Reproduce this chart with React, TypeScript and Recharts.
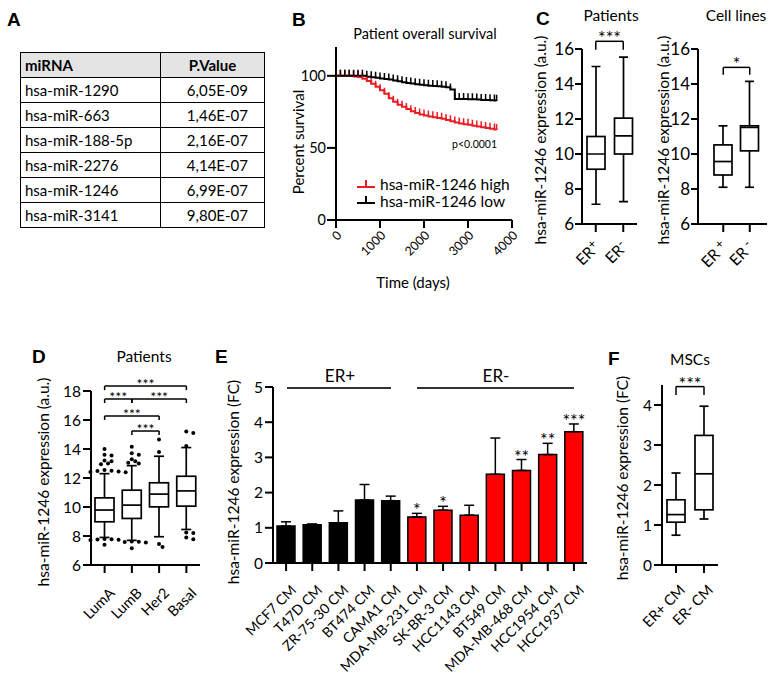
import React from "react";
import {
  Bar,
  BarChart,
  Cell,
  ErrorBar,
  Line,
  LineChart,
  ReferenceDot,
  ReferenceLine,
  XAxis,
  YAxis,
} from "recharts";

const FONT = "Lato, 'Open Sans', sans-serif";
const BAR_RED = "#ff0000";
const CURVE_RED = "#ec1c24";

// ---- A: top miRNAs
const tableMirnas = ["hsa-miR-1290", "hsa-miR-663", "hsa-miR-188-5p", "hsa-miR-2276", "hsa-miR-1246", "hsa-miR-3141"];
const tablePValues = ["6,05E-09", "1,46E-07", "2,16E-07", "4,14E-07", "6,99E-07", "9,80E-07"];

// ---- B: overall survival (percent)
const survTimes = [
  0, 100, 200, 300, 400, 500, 600, 700, 800, 900, 1000, 1100, 1200, 1300, 1400, 1500, 1600, 1700, 1800,
  1900, 2000, 2100, 2200, 2300, 2400, 2500, 2600, 2700, 2800, 2900, 3000, 3100, 3200, 3300, 3400, 3500,
  3600, 3650,
];
const survHigh = [
  100, 100, 100, 100, 99.6, 99.2, 98, 96.5, 94.5, 92.5, 90, 87.5, 84.5, 82, 80, 78.5, 77, 75.5, 74.2, 73.2,
  72.4, 71.8, 71.2, 70.8, 70.2, 69.4, 68.5, 67.6, 67, 66.5, 66, 65.4, 64.8, 64.3, 63.8, 63.3, 62.8, 62.5,
];
const survLow = [
  100, 100, 100, 100, 100, 100, 100, 99.3, 99, 98.6, 98.2, 97.8, 97.4, 96.8, 96.2, 95.6, 95, 94.6, 94.2,
  93.8, 93.5, 93.2, 93, 92.8, 92.4, 92, 90.6, 84, 84, 84, 83.8, 83.8, 83.5, 83.3, 83.2, 83, 82.9, 82.8,
];
const survTicks = [0, 1000, 2000, 3000, 4000];

// ---- C: ER status boxes  [min, q1, median, q3, max]
const cPatientGroups = ["ER+", "ER-"];
const cPatientStats = [
  [7.13, 9.13, 10.0, 11.0, 15.0],
  [7.28, 10.0, 11.04, 12.05, 15.54],
];
const cCellGroups = ["ER +", "ER -"];
const cCellStats = [
  [8.1, 8.8, 9.57, 10.52, 11.61],
  [8.1, 10.18, 11.52, 11.61, 14.15],
];
const cTicks = [6, 8, 10, 12, 14, 16];

// ---- D: PAM50 subtypes
const dSubtypes = ["LumA", "LumB", "Her2", "Basal"];
const dStats = [
  [7.9, 8.98, 9.79, 10.63, 12.3],
  [7.7, 9.21, 10.13, 11.16, 12.85],
  [7.95, 10.01, 10.89, 11.67, 13.5],
  [8.45, 10.06, 11.11, 12.12, 14.1],
];
const dOutliers = [
  [14.0, 13.6, 13.55, 13.2, 13.15, 13.0, 12.95, 12.55, 12.5, 12.48, 12.45, 12.42, 12.4, 7.8, 7.78, 7.76, 7.74, 7.72, 7.4],
  [14.15, 13.7, 13.6, 13.3, 13.15, 13.05, 13.0, 7.62, 7.6, 7.58, 7.56, 7.15],
  [14.65, 13.8, 7.45, 7.25],
  [15.2, 15.1, 14.2, 8.25, 8.2, 7.9, 7.78],
];
const dTicks = [6, 8, 10, 12, 14, 16, 18];

// ---- E: conditioned media, fold change (mean and top of error bar)
const eLines = [
  "MCF7 CM", "T47D CM", "ZR-75-30 CM", "BT474 CM", "CAMA1 CM", "MDA-MB-231 CM",
  "SK-BR-3 CM", "HCC1143 CM", "BT549 CM", "MDA-MB-468 CM", "HCC1954 CM", "HCC1937 CM",
];
const eGroup = ["ER+", "ER+", "ER+", "ER+", "ER+", "ER-", "ER-", "ER-", "ER-", "ER-", "ER-", "ER-"];
const eMeans = [1.05, 1.09, 1.14, 1.79, 1.77, 1.31, 1.5, 1.36, 2.52, 2.63, 3.08, 3.73];
const eErrTop = [1.17, 1.11, 1.48, 2.23, 1.9, 1.41, 1.61, 1.64, 3.55, 2.94, 3.4, 3.95];
const eSig = ["", "", "", "", "", "*", "*", "", "", "**", "**", "***"];
const eTicks = [0, 1, 2, 3, 4, 5];

// ---- F: MSCs
const fGroups = ["ER+ CM", "ER- CM"];
const fStats = [
  [0.745, 1.07, 1.26, 1.63, 2.3],
  [1.15, 1.38, 2.28, 3.24, 3.97],
];
const fTicks = [0, 1, 2, 3, 4];

type BoxRow = { name: string; stats: number[]; outliers: number[] };

const boxRows = (names: string[], stats: number[][], outliers?: number[][]): BoxRow[] =>
  names.map((name, i) => ({ name, stats: stats[i], outliers: outliers ? outliers[i] : [] }));

const axisLine = { stroke: "#000", strokeWidth: 2 };
const STAR_SIZE = 18;

// spread overlapping outlier dots sideways
function swarm(ys: number[], r: number) {
  const placed: { dx: number; y: number }[] = [];
  const step = 2 * r + 0.4;
  ys.forEach((y) => {
    for (let n = 0; n < 30; n++) {
      const dx = n === 0 ? 0 : (n % 2 ? 1 : -1) * Math.ceil(n / 2) * step * 0.8;
      if (placed.every((p) => Math.hypot(p.dx - dx, p.y - y) >= step * 0.9)) {
        placed.push({ dx, y });
        break;
      }
    }
  });
  return placed;
}

function makeBoxShape(capHalf: number) {
  return function BoxShape(props: any) {
    const { x, y, width, height, payload } = props;
    const [lo, q1, med, q3, hi] = payload.stats as number[];
    const k = height / (hi - lo);
    const py = (v: number) => y + (hi - v) * k;
    const cx = x + width / 2;
    const dots = swarm(payload.outliers.map(py), 2);
    return (
      <g stroke="#000" strokeWidth={1.7} fill="none">
        <line x1={cx} x2={cx} y1={py(hi)} y2={py(q3)} />
        <line x1={cx} x2={cx} y1={py(q1)} y2={py(lo)} />
        <line x1={cx - capHalf} x2={cx + capHalf} y1={py(hi)} y2={py(hi)} />
        <line x1={cx - capHalf} x2={cx + capHalf} y1={py(lo)} y2={py(lo)} />
        <rect x={x} y={py(q3)} width={width} height={py(q1) - py(q3)} fill="#fff" />
        <line x1={x} x2={x + width} y1={py(med)} y2={py(med)} />
        {dots.map((d, i) => (
          <circle key={i} cx={cx + d.dx} cy={d.y} r={2} fill="#000" stroke="none" />
        ))}
      </g>
    );
  };
}

function RotatedTick(props: any) {
  const { x, y, payload, dx, dy, fontSize } = props;
  const ax = x + dx;
  const ay = y + dy;
  return (
    <text x={ax} y={ay} transform={`rotate(-45 ${ax} ${ay})`} textAnchor="end" fontSize={fontSize} fill="#000">
      {payload.value}
    </text>
  );
}

// "ER+" drawn with the sign raised, as in the figure
function SupTick(props: any) {
  const { x, y, payload, dx, dy, fontSize } = props;
  const s = String(payload.value);
  const main = s.slice(0, 2);
  const sup = s.slice(2);
  const ax = x + dx;
  const ay = y + dy;
  return (
    <text x={ax} y={ay} transform={`rotate(-45 ${ax} ${ay})`} textAnchor="end" fontSize={fontSize} fill="#000">
      {main}
      <tspan dy={-5} fontSize={fontSize * 0.8}>{sup}</tspan>
    </text>
  );
}

function bracket(a: string, b: string, y: number, drop: number, text: string, key: string, size = STAR_SIZE) {
  const common = { stroke: "#000", strokeWidth: 1.5, ifOverflow: "visible" as const };
  return [
    <ReferenceLine
      key={key + "h"}
      segment={[{ x: a, y }, { x: b, y }]}
      {...common}
      label={{ value: text, position: "top", offset: -3, fill: "#000", fontSize: size }}
    />,
    <ReferenceLine key={key + "l"} segment={[{ x: a, y }, { x: a, y: y - drop }]} {...common} />,
    <ReferenceLine key={key + "r"} segment={[{ x: b, y }, { x: b, y: y - drop }]} {...common} />,
  ];
}

function BoxPanel(props: {
  left: number; top: number; width: number; height: number;
  margin: { top: number; right: number; bottom: number; left: number };
  yWidth: number; xHeight: number; rows: BoxRow[]; domain: [number, number]; ticks: number[];
  barSize: number; capHalf: number; tick: (p: any) => any; xPadding?: { left: number; right: number };
  yFont?: number; yTickSize?: number; yTickMargin?: number; children?: any;
}) {
  const shape = makeBoxShape(props.capHalf);
  return (
    <div style={{ position: "absolute", left: props.left, top: props.top }}>
      <BarChart width={props.width} height={props.height} data={props.rows} margin={props.margin} barSize={props.barSize}>
        <XAxis
          dataKey="name"
          type="category"
          interval={0}
          height={props.xHeight}
          tickSize={8}
          tickMargin={0}
          axisLine={axisLine}
          tickLine={axisLine}
          tick={props.tick}
          padding={props.xPadding}
        />
        <YAxis
          type="number"
          domain={props.domain}
          ticks={props.ticks}
          interval={0}
          width={props.yWidth}
          tickSize={props.yTickSize ?? 8}
          tickMargin={props.yTickMargin ?? 2}
          axisLine={axisLine}
          tickLine={axisLine}
          tick={{ fill: "#000", fontSize: props.yFont ?? 15 }}
          allowDataOverflow
        />
        <Bar dataKey={(d: BoxRow) => [d.stats[0], d.stats[4]]} shape={shape} isAnimationActive={false} />
        {props.children}
      </BarChart>
    </div>
  );
}

function censorTick(color: string) {
  return (p: any) => (
    <line key={`c${p.index}`} x1={p.cx} x2={p.cx} y1={p.cy - 6} y2={p.cy} stroke={color} strokeWidth={1.5} />
  );
}

function SurvivalPanel() {
  const highRows = survTimes.map((t, i) => ({ t, s: survHigh[i] }));
  const lowRows = survTimes.map((t, i) => ({ t, s: survLow[i] }));
  return (
    <div style={{ position: "absolute", left: 250, top: 40 }}>
      <LineChart width={285} height={260} margin={{ top: 7, right: 23, bottom: 0, left: 0 }}>
        <XAxis
          type="number"
          dataKey="t"
          domain={[0, 4000]}
          ticks={survTicks}
          interval={0}
          height={80}
          tickSize={8}
          tickMargin={0}
          axisLine={axisLine}
          tickLine={axisLine}
          tick={(p: any) => <RotatedTick {...p} dx={6.5} dy={8} fontSize={12.5} />}
          allowDataOverflow
        />
        <YAxis
          type="number"
          domain={[0, 120]}
          ticks={[0, 50, 100]}
          interval={0}
          width={86}
          tickSize={9}
          tickMargin={1}
          axisLine={axisLine}
          tickLine={axisLine}
          tick={{ fill: "#000", fontSize: 14.5 }}
        />
        <Line data={highRows} dataKey="s" type="stepAfter" stroke={CURVE_RED} strokeWidth={2}
          dot={censorTick(CURVE_RED)} activeDot={false} isAnimationActive={false} />
        <Line data={lowRows} dataKey="s" type="stepAfter" stroke="#000" strokeWidth={2}
          dot={censorTick("#000")} activeDot={false} isAnimationActive={false} />
      </LineChart>
    </div>
  );
}

function CellLinePanel() {
  const rows = eLines.map((name, i) => ({
    name,
    group: eGroup[i],
    mean: eMeans[i],
    err: [0, +(eErrTop[i] - eMeans[i]).toFixed(3)],
  }));
  return (
    <div style={{ position: "absolute", left: 240, top: 365 }}>
      <BarChart width={355} height={318} data={rows} margin={{ top: 22, right: 8, bottom: 0, left: 0 }} barSize={18}>
        <XAxis
          dataKey="name"
          interval={0}
          height={120}
          tickSize={8}
          tickMargin={0}
          axisLine={axisLine}
          tickLine={axisLine}
          tick={(p: any) => <RotatedTick {...p} dx={11} dy={20} fontSize={14} />}
        />
        <YAxis
          type="number"
          domain={[0, 5]}
          ticks={eTicks}
          interval={0}
          width={33}
          tickSize={8}
          tickMargin={2}
          axisLine={axisLine}
          tickLine={axisLine}
          tick={{ fill: "#000", fontSize: 15.5 }}
        />
        <Bar dataKey="mean" stroke="#000" strokeWidth={1.5} isAnimationActive={false}>
          {rows.map((r, i) => (
            <Cell key={i} fill={r.group === "ER+" ? "#000" : BAR_RED} />
          ))}
          <ErrorBar dataKey="err" width={5} stroke="#000" strokeWidth={1.5} direction="y" />
        </Bar>
        {eLines.map((name, i) =>
          eSig[i] ? (
            <ReferenceDot
              key={name}
              x={name}
              y={eErrTop[i]}
              r={0}
              fill="none"
              stroke="none"
              ifOverflow="visible"
              label={{ value: eSig[i], position: "top", offset: -3, fill: "#000", fontSize: STAR_SIZE }}
            />
          ) : null,
        )}
      </BarChart>
    </div>
  );
}

function MirnaTable() {
  const cell = {
    border: "1.5px solid #000",
    padding: "0 4px",
    height: 24,
    lineHeight: "20px",
  };
  return (
    <table
      style={{
        position: "absolute",
        left: 20,
        top: 52,
        width: 245,
        borderCollapse: "collapse",
        fontFamily: FONT,
        fontSize: 15,
      }}
    >
      <thead>
        <tr style={{ background: "#e4e4e4" }}>
          <th style={{ ...cell, width: 131, textAlign: "left" }}>miRNA</th>
          <th style={{ ...cell, textAlign: "center" }}>P.Value</th>
        </tr>
      </thead>
      <tbody>
        {tableMirnas.map((m, i) => (
          <tr key={m}>
            <td style={{ ...cell, textAlign: "left" }}>{m}</td>
            <td style={{ ...cell, textAlign: "right", paddingRight: 16 }}>{tablePValues[i]}</td>
          </tr>
        ))}
      </tbody>
    </table>
  );
}

function VText({ x, y, children, size = 15.5 }: { x: number; y: number; children: any; size?: number }) {
  return (
    <text x={x} y={y} transform={`rotate(-90 ${x} ${y})`} textAnchor="middle" fontSize={size} fill="#000">
      {children}
    </text>
  );
}

function Overlay() {
  const letter = { fontFamily: "'Liberation Sans', Arial, sans-serif", fontWeight: 700, fontSize: 19, fill: "#000" };
  return (
    <svg width={778} height={683} style={{ position: "absolute", left: 0, top: 0, pointerEvents: "none", fontFamily: FONT }}>
      <text x={7} y={26} {...letter}>A</text>
      <text x={292} y={26} {...letter}>B</text>
      <text x={536} y={25} {...letter}>C</text>
      <text x={32} y={363} {...letter}>D</text>
      <text x={215} y={363} {...letter}>E</text>
      <text x={608} y={365} {...letter}>F</text>

      <text x={425} y={39} textAnchor="middle" fontSize={14.5}>Patient overall survival</text>
      <VText x={304} y={142} size={15}>Percent survival</VText>
      <text x={413} y={288} textAnchor="middle" fontSize={15}>Time (days)</text>
      <text x={497} y={148} textAnchor="end" fontSize={10.5}>p&lt;0.0001</text>
      <line x1={357} x2={375} y1={187} y2={187} stroke={CURVE_RED} strokeWidth={2} />
      <line x1={366} x2={366} y1={180} y2={187} stroke={CURVE_RED} strokeWidth={2} />
      <text x={380} y={190} fontSize={15.5}>hsa-miR-1246 high</text>
      <line x1={357} x2={375} y1={203} y2={203} stroke="#000" strokeWidth={2} />
      <line x1={366} x2={366} y1={196} y2={203} stroke="#000" strokeWidth={2} />
      <text x={380} y={207} fontSize={15.5}>hsa-miR-1246 low</text>

      <text x={611} y={21} textAnchor="middle" fontSize={15.5}>Patients</text>
      <text x={736} y={21} textAnchor="middle" fontSize={15.5}>Cell lines</text>
      <VText x={546} y={140}>hsa-miR-1246 expression (a.u.)</VText>
      <VText x={669} y={140}>hsa-miR-1246 expression (a.u.)</VText>

      <text x={144} y={362} textAnchor="middle" fontSize={15.5}>Patients</text>
      <VText x={49} y={482}>hsa-miR-1246 expression (a.u.)</VText>

      <VText x={239} y={482}>hsa-miR-1246 expression (FC)</VText>
      <text x={340} y={382} textAnchor="middle" fontSize={17}>ER+</text>
      <line x1={287} x2={391} y1={388} y2={388} stroke="#333" strokeWidth={2} />
      <text x={496} y={382} textAnchor="middle" fontSize={17}>ER-</text>
      <line x1={417} x2={574} y1={388} y2={388} stroke="#333" strokeWidth={2} />

      <text x={690} y={365} textAnchor="middle" fontSize={15.5}>MSCs</text>
      <VText x={628} y={478}>hsa-miR-1246 expression (FC)</VText>
    </svg>
  );
}

export default function App() {
  const supTick = (p: any) => <SupTick {...p} dx={5} dy={16} fontSize={15.5} />;
  return (
    <div
      style={{
        position: "absolute",
        left: 0,
        top: 0,
        width: 778,
        height: 683,
        background: "#fff",
        fontFamily: FONT,
        overflow: "hidden",
      }}
    >
      <MirnaTable />
      <SurvivalPanel />

      <BoxPanel
        left={550} top={15} width={95} height={275}
        margin={{ top: 34, right: 8, bottom: 0, left: 0 }}
        yWidth={32} xHeight={66}
        rows={boxRows(cPatientGroups, cPatientStats)}
        domain={[6, 16]} ticks={cTicks} barSize={18} capHalf={4.5} tick={supTick}
        yFont={17} yTickSize={7} yTickMargin={1}
      >
        {bracket("ER+", "ER-", 16.44, 0.48, "***", "cp")}
      </BoxPanel>

      <BoxPanel
        left={668} top={15} width={110} height={275}
        margin={{ top: 34, right: 11, bottom: 0, left: 0 }}
        yWidth={30} xHeight={66}
        rows={boxRows(cCellGroups, cCellStats)}
        domain={[6, 16]} ticks={cTicks} barSize={18} capHalf={4.5} tick={supTick}
        xPadding={{ left: 12, right: 4 }}
        yFont={17} yTickSize={7} yTickMargin={1}
      >
        {bracket("ER +", "ER -", 14.95, 0.42, "*", "cc")}
      </BoxPanel>

      <BoxPanel
        left={50} top={355} width={155} height={270}
        margin={{ top: 36, right: 5, bottom: 0, left: 0 }}
        yWidth={41} xHeight={60}
        rows={boxRows(dSubtypes, dStats, dOutliers)}
        domain={[6, 18]} ticks={dTicks} barSize={19} capHalf={5}
        tick={(p: any) => <RotatedTick {...p} dx={11} dy={21} fontSize={14.5} />}
        yFont={15.5}
      >
        {bracket("LumA", "Basal", 18.34, 0.28, "***", "d1", 14)}
        {bracket("LumA", "LumB", 17.45, 0.28, "***", "d2", 14)}
        {bracket("LumB", "Basal", 17.45, 0.28, "***", "d3", 14)}
        {bracket("LumA", "Her2", 16.28, 0.28, "***", "d4", 14)}
        {bracket("LumB", "Her2", 15.24, 0.28, "***", "d5", 14)}
      </BoxPanel>

      <CellLinePanel />

      <BoxPanel
        left={632} top={350} width={146} height={285}
        margin={{ top: 35, right: 60, bottom: 0, left: 0 }}
        yWidth={30} xHeight={70}
        rows={boxRows(fGroups, fStats)}
        domain={[0, 4.5]} ticks={fTicks} barSize={18} capHalf={4.5}
        tick={(p: any) => <RotatedTick {...p} dx={10} dy={18} fontSize={14.5} />}
        yFont={15.5}
      >
        {bracket("ER+ CM", "ER- CM", 4.46, 0.21, "***", "f")}
      </BoxPanel>

      <Overlay />
    </div>
  );
}
